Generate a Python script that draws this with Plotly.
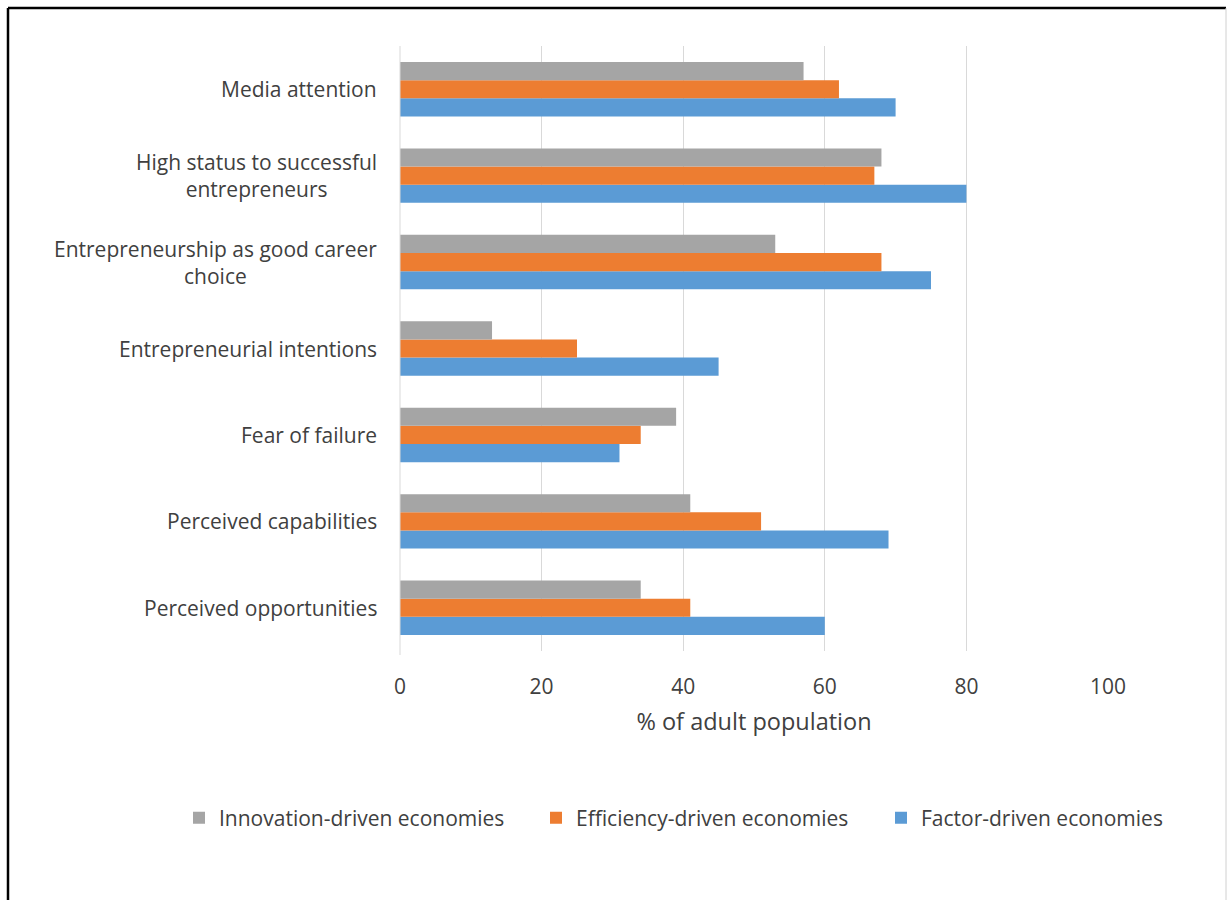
import plotly.graph_objects as go

# Entrepreneurial attitudes by economy type (% of adult population)
categories = [
    "Perceived opportunities",
    "Perceived capabilities",
    "Fear of failure",
    "Entrepreneurial intentions",
    "Entrepreneurship as good career<br>choice",
    "High status to successful<br>entrepreneurs",
    "Media attention",
]
factor_driven = [60, 69, 31, 45, 75, 80, 70]
efficiency_driven = [41, 51, 34, 25, 68, 67, 62]
innovation_driven = [34, 41, 39, 13, 53, 68, 57]
x_ticks = [0, 20, 40, 60, 80, 100]

W, H = 1231, 900
L, R, T, B = 400, 1108, 46, 651  # plot area in pixels
pw, ph = R - L, B - T

def px(x):
    return (x - L) / pw

def py(y):
    return (B - y) / ph

FONT = "Open Sans"
TXT = "#404040"

fig = go.Figure()
# (name, values, colour, legend id, legend x position in px)
series = [
    ("Factor-driven economies", factor_driven, "#5B9BD5", "legend3", 881),
    ("Efficiency-driven economies", efficiency_driven, "#ED7D31", "legend2", 536),
    ("Innovation-driven economies", innovation_driven, "#A5A5A5", "legend", 179),
]
legend_cfg = {}
for name, vals, col, lg, lx in series:
    fig.add_trace(go.Bar(
        y=categories, x=vals, name=name, orientation="h",
        marker=dict(color=col, line=dict(width=0)), legend=lg,
    ))
    legend_cfg[lg] = dict(
        orientation="h", x=px(lx), xanchor="left", y=py(818), yanchor="middle",
        font=dict(family=FONT, size=21, color=TXT),
        itemwidth=30, bgcolor="rgba(0,0,0,0)",
    )

# category labels, lines centred within each label
for cat in categories:
    fig.add_annotation(
        x=px(379), xref="paper", y=cat, yref="y", text=cat,
        showarrow=False, xanchor="right", yanchor="middle", align="center",
        font=dict(family=FONT, size=21, color=TXT),
    )

fig.update_layout(
    width=W, height=H,
    margin=dict(l=L, r=W - R, t=T, b=H - B, pad=0),
    paper_bgcolor="white", plot_bgcolor="white",
    barmode="group", bargap=0.37, bargroupgap=0,
    font=dict(family=FONT, color=TXT),
    showlegend=True,
    xaxis=dict(
        range=[0, 100], tickvals=x_ticks, ticktext=[str(v) for v in x_ticks],
        showgrid=True, gridcolor="#D9D9D9", gridwidth=1,
        zeroline=False, showline=False, ticks="",
        ticklabelstandoff=21,
        tickfont=dict(family=FONT, size=21, color=TXT),
        title=dict(text="% of adult population", standoff=14,
                   font=dict(family=FONT, size=23.5, color=TXT)),
    ),
    yaxis=dict(
        categoryorder="array", categoryarray=categories,
        showticklabels=False, ticks="", showgrid=False, zeroline=False,
        showline=False, range=[-0.5, 6.5],
    ),
    shapes=[
        dict(type="line", xref="paper", yref="paper",
             x0=px(8), x1=px(1226), y0=py(8), y1=py(8),
             line=dict(color="black", width=2.5)),
        dict(type="line", xref="paper", yref="paper",
             x0=px(8), x1=px(8), y0=py(8), y1=py(905),
             line=dict(color="black", width=2.5)),
        dict(type="line", xref="paper", yref="paper",
             x0=px(1226), x1=px(1226), y0=py(8), y1=py(905),
             line=dict(color="#D0D0D0", width=1)),
        dict(type="line", xref="paper", yref="paper",
             x0=px(400), x1=px(400), y0=py(46), y1=py(655),
             line=dict(color="#D9D9D9", width=1)),
    ],
    **legend_cfg,
)

fig.write_html("out.html")
